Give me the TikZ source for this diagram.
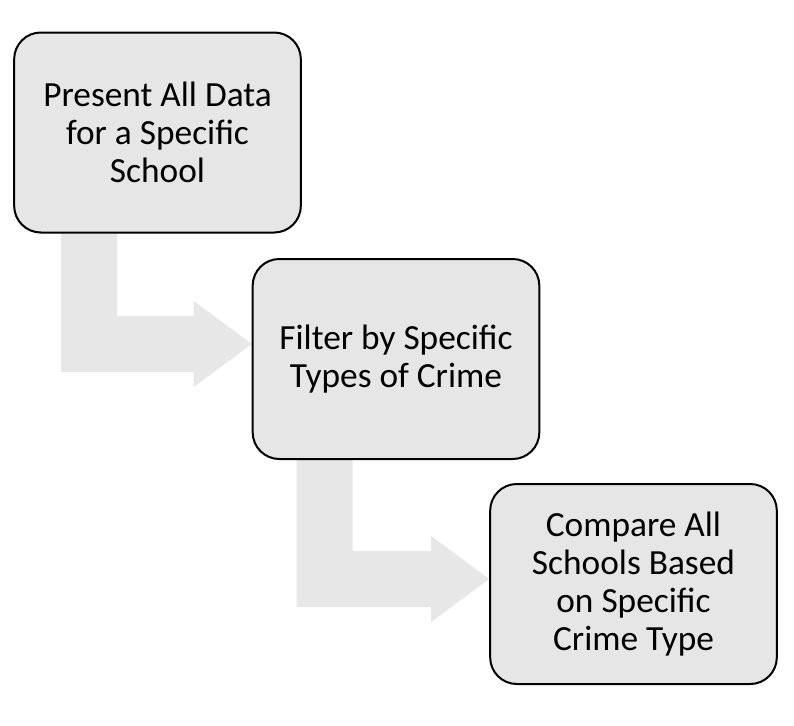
\documentclass[tikz,border=0pt]{standalone}
\usepackage{fontspec}
\setmainfont{Carlito}
\usetikzlibrary{positioning,calc,backgrounds}
\definecolor{boxgray}{HTML}{E6E6E6}
\definecolor{flowgray}{HTML}{E7E7E7}
\tikzstyle{stage}=[draw=black, line width=1.5pt, fill=boxgray, rounded corners=20pt, minimum width=215pt, minimum height=150pt, align=center, inner sep=0pt, font=\fontsize{26.5}{28.5}\selectfont]
\tikzstyle{flow}=[fill=flowgray, draw=none]

\begin{document}
\begin{tikzpicture}[x=0.75pt,y=-0.75pt]
		\useasboundingbox(0,0)rectangle(794,726);
		\node[stage](present)at(157.5,132.5){Present All Data\\for a Specific\\School};
		\node[stage](filter)at(396,359){Filter by Specific\\Types of Crime};
		\node[stage](compare)at(633.5,584){Compare All\\Schools Based\\on Specific\\Crime Type};
		\begin{scope}[on background layer]
		\coordinate(s1)at($(present.south west)+(48,0)$);
		\coordinate(t1)at($(filter.west)+(0,-15)$);
		\fill[flow](s1)--++(56,0)|-($(t1)+(-58,-28)$)--++(0,-15)--(t1)--($(t1)+(-58,43)$)--++(0,-15)-|(s1)--cycle;
		\coordinate(s2)at($(filter.south west)+(45,0)$);
		\coordinate(t2)at($(compare.west)+(0,-5)$);
		\fill[flow](s2)--++(56,0)|-($(t2)+(-58,-28)$)--++(0,-15)--(t2)--($(t2)+(-58,43)$)--++(0,-15)-|(s2)--cycle;
		\end{scope}
\end{tikzpicture}
\end{document}
